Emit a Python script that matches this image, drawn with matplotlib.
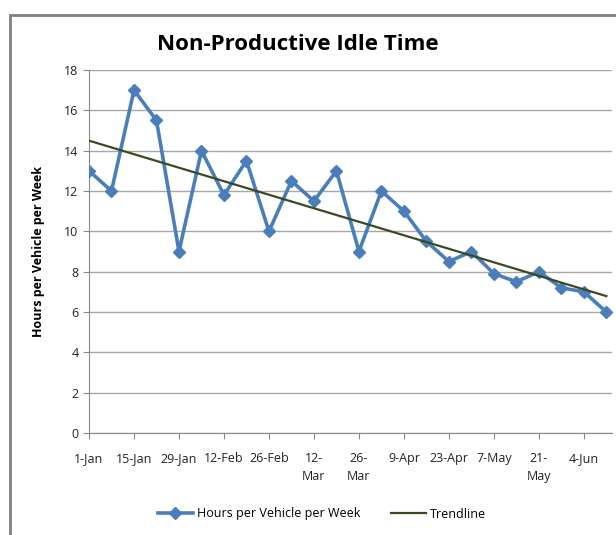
import numpy as np
import matplotlib
matplotlib.use("Agg")
import matplotlib.pyplot as plt
from matplotlib.patches import Rectangle

# weekly data, 1-Jan .. 11-Jun
weeks = ["1-Jan", "8-Jan", "15-Jan", "22-Jan", "29-Jan", "5-Feb", "12-Feb", "19-Feb",
         "26-Feb", "5-Mar", "12-Mar", "19-Mar", "26-Mar", "2-Apr", "9-Apr", "16-Apr",
         "23-Apr", "30-Apr", "7-May", "14-May", "21-May", "28-May", "4-Jun", "11-Jun"]
hours = [13, 12, 17, 15.5, 9, 14, 11.8, 13.5, 10, 12.5, 11.5, 13, 9, 12, 11, 9.5,
         8.5, 9, 7.9, 7.5, 8, 7.2, 7, 6]
tick_labels = ["1-Jan", "15-Jan", "29-Jan", "12-Feb", "26-Feb", "12-\nMar", "26-\nMar",
               "9-Apr", "23-Apr", "7-May", "21-\nMay", "4-Jun"]

BLUE = "#4a7ebb"
TREND = "#3a4a20"
GRID = "#a6a6a6"

plt.rcParams['font.family'] = ['Open Sans', 'DejaVu Sans']

fig = plt.figure(figsize=(6.16, 5.35), dpi=100)
ax = fig.add_axes([89 / 616, 1 - 433 / 535, (612 - 89) / 616, (433 - 70) / 535])

x = np.arange(len(hours))
ax.plot(x, hours, color=BLUE, lw=2.6, marker="D", ms=6.5, mfc=BLUE, mec=BLUE,
        label="Hours per Vehicle per Week", zorder=3)

# linear trendline, like Excel's
k, b = np.polyfit(x, hours, 1)
ax.plot(x, k * x + b, color=TREND, lw=1.6, label="Trendline", zorder=4)

ax.set_xlim(0, 23.25)
ax.set_ylim(0, 18)
ax.set_yticks(range(0, 19, 2))
ax.set_xticks(x[::2])
ax.set_xticklabels(tick_labels, fontsize=9, color="#222222", linespacing=1.45)
ax.tick_params(axis="y", labelsize=9, colors="#222222", length=4, color="#888888")
ax.tick_params(axis="x", length=4, color="#888888", pad=10)
ax.grid(axis="y", color=GRID, lw=1)
ax.set_axisbelow(True)
for s in ["top", "right"]:
    ax.spines[s].set_visible(False)
for s in ["left", "bottom"]:
    ax.spines[s].set_color("#888888")

ax.set_ylabel("Hours per Vehicle per Week", fontsize=9, fontweight="bold", labelpad=14)

fig.text(298 / 616, 1 - 44 / 535, "Non-Productive Idle Time", ha="center", va="center",
         fontsize=16, fontweight="bold")

fig.legend(loc="center", bbox_to_anchor=(322 / 616, 1 - 514 / 535), ncol=2, frameon=False,
           fontsize=9, handlelength=2.8, columnspacing=2.5, handletextpad=0.3)

# chart frame (partially cut off in the original)
fig.patches.append(Rectangle((10 / 616, -0.05), 1.1, 1 - 5 / 535 + 0.05 - 10 / 535,
                             transform=fig.transFigure, fill=False,
                             ec="#7f7f7f", lw=2))

fig.savefig("out.png", dpi=100)
